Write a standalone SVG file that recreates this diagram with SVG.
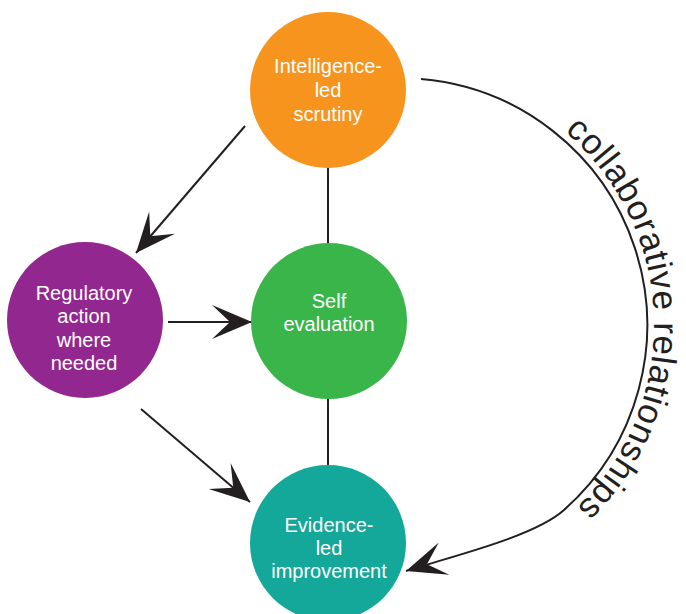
<svg xmlns="http://www.w3.org/2000/svg" xmlns:xlink="http://www.w3.org/1999/xlink" width="686" height="614" viewBox="0 0 686 614">
  <style>
    .node-label { font-family: "Liberation Sans", Arial, Helvetica, sans-serif; font-size: 20px; fill: #ffffff; text-anchor: middle; }
    .conn { fill: none; stroke: #231F20; stroke-width: 2; }
    .arc-label { font-family: "Liberation Sans", Arial, Helvetica, sans-serif; font-size: 35px; letter-spacing: 0.8px; fill: #231F20; }
  </style>
  <defs>
    <marker id="arrow" markerUnits="userSpaceOnUse" viewBox="-42 -20 44 40" markerWidth="44" markerHeight="40" refX="0" refY="0" orient="auto">
      <path d="M0,0 L-40,-17 L-22,0 L-40,17 Z" fill="#231F20"/>
    </marker>
    <path id="labelPath" d="M 400 71 A 254 254 0 0 1 400 579"/>
  </defs>
  <rect width="686" height="614" fill="#ffffff"/>

  <g id="connectors">
    <line class="conn" x1="328" y1="167" x2="328" y2="244"/>
    <line class="conn" x1="328" y1="398" x2="328" y2="466"/>
    <line class="conn" x1="245" y1="126" x2="136" y2="253" marker-end="url(#arrow)"/>
    <line class="conn" x1="168" y1="322" x2="252" y2="322" marker-end="url(#arrow)"/>
    <line class="conn" x1="141" y1="409" x2="250" y2="502" marker-end="url(#arrow)"/>
    <path class="conn" d="M 421 79 A 247 247 0 0 1 564 510 C 534 537 449 557 406 571" marker-end="url(#arrow)"/>
  </g>

  <g id="arc-label">
    <text class="arc-label"><textPath xlink:href="#labelPath" href="#labelPath" startOffset="49%" text-anchor="middle">collaborative relationships</textPath></text>
  </g>

  <g id="node-intelligence">
    <circle cx="328" cy="90" r="78" fill="#F7941D"/>
    <text class="node-label" x="328" y="73">Intelligence-</text>
    <text class="node-label" x="328" y="97">led</text>
    <text class="node-label" x="328" y="121">scrutiny</text>
  </g>

  <g id="node-regulatory">
    <circle cx="85" cy="320" r="78" fill="#92278F"/>
    <text class="node-label" x="84" y="300">Regulatory</text>
    <text class="node-label" x="84" y="323">action</text>
    <text class="node-label" x="84" y="347">where</text>
    <text class="node-label" x="84" y="370">needed</text>
  </g>

  <g id="node-self">
    <circle cx="329" cy="321" r="78" fill="#39B54A"/>
    <text class="node-label" x="329" y="308">Self</text>
    <text class="node-label" x="329" y="331">evaluation</text>
  </g>

  <g id="node-evidence">
    <circle cx="328" cy="543" r="78" fill="#14A89A"/>
    <text class="node-label" x="329" y="532">Evidence-</text>
    <text class="node-label" x="329" y="555">led</text>
    <text class="node-label" x="329" y="578">improvement</text>
  </g>
</svg>
